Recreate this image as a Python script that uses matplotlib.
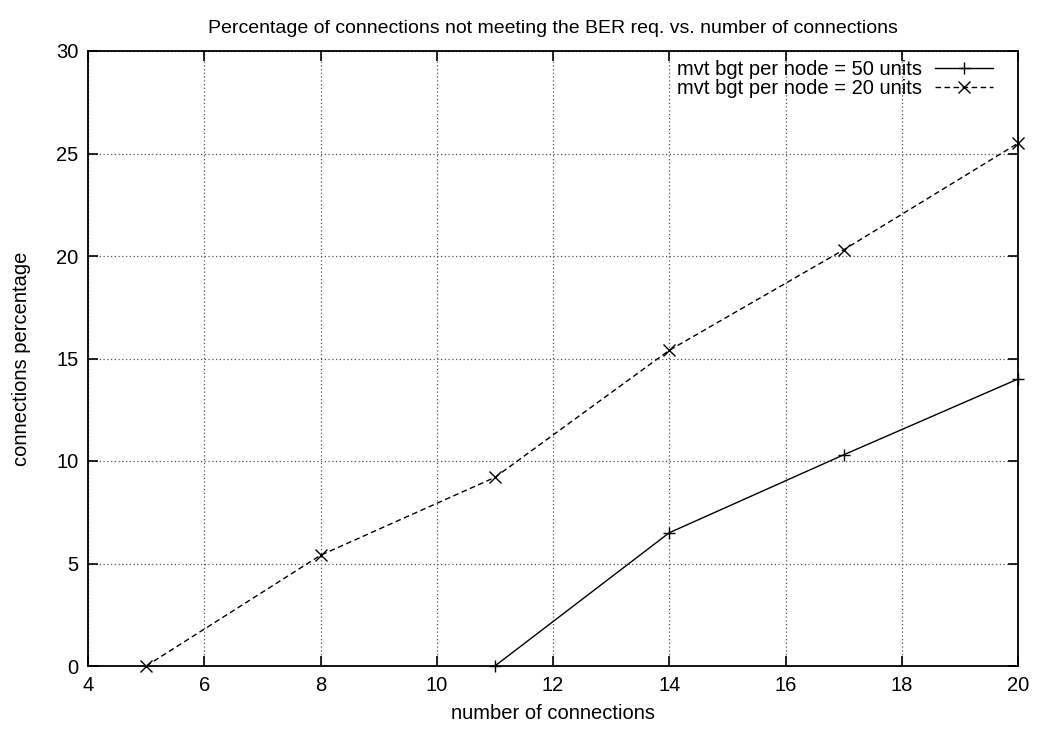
import matplotlib
matplotlib.use("Agg")
import matplotlib.pyplot as plt

plt.rcParams['font.family'] = ['Liberation Sans', 'DejaVu Sans']

x50 = [11, 14, 17, 20]
y50 = [0, 6.5, 10.3, 14.0]
x20 = [5, 8, 11, 14, 17, 20]
y20 = [0, 5.4, 9.2, 15.4, 20.3, 25.5]
label50 = "mvt bgt per node = 50 units"
label20 = "mvt bgt per node = 20 units"
xticks = [4, 6, 8, 10, 12, 14, 16, 18, 20]
yticks = [0, 5, 10, 15, 20, 25, 30]

FS = 14.5
fig = plt.figure(figsize=(10.42, 7.31), dpi=100)
ax = fig.add_axes([88/1042, 65/731, (1018-88)/1042, (666-51)/731])

ax.plot(x50, y50, color='black', lw=1.0, ls='-', marker='+', ms=9, mew=1.0,
        label=label50, clip_on=False, zorder=3)
ax.plot(x20, y20, color='black', lw=1.0, ls=(0, (4, 2.5)), marker='x', ms=8, mew=1.0,
        label=label20, clip_on=False, zorder=3)

ax.set_xlim(4, 20)
ax.set_ylim(0, 30)
ax.set_xticks(xticks)
ax.set_yticks(yticks)
ax.tick_params(direction='in', top=True, right=True, length=7, width=1.2, labelsize=FS, pad=7)
ax.grid(True, ls=(0, (1, 2)), color='#555555', lw=0.9)
for s in ax.spines.values():
    s.set_linewidth(1.3)

ax.set_xlabel("number of connections", fontsize=FS, labelpad=7)
ax.set_ylabel("connections percentage", fontsize=FS, labelpad=18)
ax.set_title("Percentage of connections not meeting the BER req. vs. number of connections",
             fontsize=14, pad=13)

leg = ax.legend(loc='upper right', frameon=False, markerfirst=False, fontsize=FS,
                handlelength=2.9, handletextpad=0.6, labelspacing=0.0,
                borderaxespad=0.0, bbox_to_anchor=(1 - 17/930, 1 - 1/615))

fig.savefig("out.png", dpi=100)
